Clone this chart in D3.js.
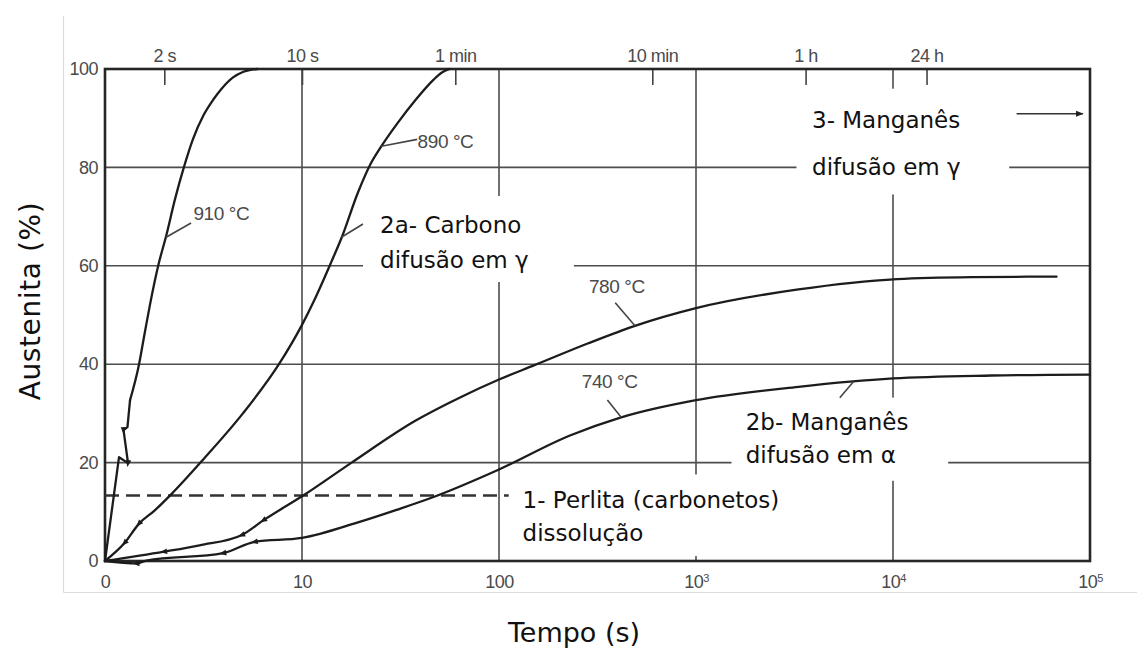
<!DOCTYPE html>
<html><head><meta charset="utf-8">
<script src="https://cdn.jsdelivr.net/npm/d3@7"></script>
<style>body{margin:0;background:#fff}</style>
</head><body>
<svg id="c" width="1137" height="648"></svg>
<script>
// ---------- data ----------
const timeTicks = [1, 10, 100, 1e3, 1e4, 1e5];
const timeTickBase = ["0", "10", "100", "10", "10", "10"];
const timeTickExp = ["", "", "", "3", "4", "5"];
const topTickValues = [2, 10, 60, 600, 3600, 14800];
const topTickLabels = ["2 s", "10 s", "1 min", "10 min", "1 h", "24 h"];
const pctTicks = [0, 20, 40, 60, 80, 100];
const gridTimes = [10, 100, 1e3, 1e4];
const gridPcts = [20, 40, 60, 80];

const t910 = [1, 1.178, 1.309, 1.242, 1.300, 1.340, 1.489, 1.585, 1.690, 1.875, 2.042, 2.265, 2.535, 2.793, 3.162, 3.548, 3.908, 4.467, 5.012, 5.943];
const p910 = [0, 21.1, 19.9, 26.6, 27.2, 32.7, 40, 46, 52, 60.5, 66, 73.5, 80.5, 85.7, 90.6, 93.8, 96, 98.3, 99.4, 100];
const t890 = [1, 1.259, 1.489, 1.778, 2.173, 3.162, 5.012, 7.638, 10, 11.64, 14.06, 15.92, 19.23, 22.28, 25.29, 30.55, 37.67, 46.45, 51.3, 56.1];
const p890 = [0, 3.7, 7.6, 10.2, 13.6, 20.7, 30, 40, 48, 53.3, 60.7, 65.8, 74.9, 80.7, 84.3, 89, 93.7, 97.8, 99.3, 100];
const t780 = [1, 1.995, 3.02, 4.955, 6.383, 10.23, 17.86, 37.58, 64.57, 100, 151.4, 281.8, 489.8, 1000, 3311, 10471, 25119, 67608];
const p780 = [0, 1.9, 3.2, 5.3, 8.3, 13.4, 20, 28.5, 33.4, 36.9, 39.8, 44.2, 47.8, 51.4, 55.2, 57.3, 57.7, 57.8];
const t740 = [1, 1.445, 1.622, 3.981, 5.754, 10, 19.05, 30.2, 45.08, 100, 229.1, 416.9, 1000, 3311, 10000, 31623, 100000];
const p740 = [0, -0.5, 0.1, 1.6, 3.9, 4.7, 7.8, 10.4, 12.8, 18.6, 25.5, 29.2, 32.7, 35.4, 37.1, 37.7, 37.9];

// index up to which each curve is drawn with straight pieces (break zigzag)
const linearUntil = [5, 0, 0, 0];

// break/arrow marks on the curves: series index and point index
const markSeries = [0, 0, 1, 1, 2, 2, 2, 3, 3, 3];
const markIndex  = [2, 3, 1, 2, 1, 3, 4, 1, 3, 4];

// pearlite dissolution level (dashed)
const dashT = [1, 112];
const dashP = [13.3, 13.3];

// white label boxes [t0,t1,p0,p1]
const boxT0 = [20.4, 3236, 1514, 112];
const boxT1 = [240, 38900, 19055, 3981];
const boxP0 = [56.7, 74.5, 16.3, 1];
const boxP1 = [74.2, 96, 33.2, 17.6];

// leader lines
const leadT0 = [2.042, 25.29, 15.85, 389, 355, 5370];
const leadP0 = [65.8, 84.3, 65.8, 52.5, 32.7, 33.2];
const leadT1 = [2.735, 38.46, 20.4, 490, 417, 6310];
const leadP1 = [68.7, 85.7, 68.5, 47.8, 29.2, 36.5];

// arrow (3- Manganês)
const arrowT = [42400, 92000];
const arrowP = [90.9, 90.9];

// temperature labels
const tempText = ["910 °C", "890 °C", "780 °C", "740 °C"];
const tempT = [2.81, 38.6, 286, 263];
const tempP = [70.7, 85.2, 55.8, 36.4];

// mechanism labels
const noteText = ["2a- Carbono", "difusão em γ", "3- Manganês", "difusão em γ", "2b- Manganês", "difusão em α", "1- Perlita (carbonetos)", "dissolução"];
const noteT = [24.9, 24.9, 3882, 3882, 1787, 1787, 131.8, 131.8];
const noteP = [68.3, 61.2, 89.6, 80.1, 28.3, 21.5, 12.4, 5.6];

const xTitle = "Tempo (s)";
const yTitle = "Austenita (%)";

// ---------- drawing ----------
const svg = d3.select("#c");
const x = d3.scaleLog().domain([1, 1e5]).range([105, 1090]);
const y = d3.scaleLinear().domain([0, 100]).range([561, 69]);

svg.append("rect").attr("width", 1137).attr("height", 648).attr("fill", "#fff");

// faint scan border
svg.append("line").attr("x1", 63.5).attr("x2", 63.5).attr("y1", 16).attr("y2", 592.5)
  .attr("stroke", "#dcdcdc").attr("stroke-width", 1.2);
svg.append("line").attr("x1", 63.5).attr("x2", 1137).attr("y1", 592.5).attr("y2", 592.5)
  .attr("stroke", "#dcdcdc").attr("stroke-width", 1.2);

const gridCol = "#4d4d4d";
svg.append("g").selectAll("line").data(gridTimes).join("line")
  .attr("x1", d => x(d)).attr("x2", d => x(d))
  .attr("y1", y(0)).attr("y2", y(100))
  .attr("stroke", gridCol).attr("stroke-width", 1.6);
svg.append("g").selectAll("line").data(gridPcts).join("line")
  .attr("x1", x(1)).attr("x2", x(1e5))
  .attr("y1", d => y(d)).attr("y2", d => y(d))
  .attr("stroke", gridCol).attr("stroke-width", 1.6);

// axes
const tickFont = "'Liberation Sans', Arial, sans-serif";
const topAxis = svg.append("g").attr("transform", `translate(0,${y(100)})`)
  .call(d3.axisTop(x).tickValues(topTickValues).tickFormat((d, i) => topTickLabels[i])
    .tickSizeInner(-16).tickSizeOuter(0).tickPadding(7.5));
const bottomAxis = svg.append("g").attr("transform", `translate(0,${y(0)})`)
  .call(d3.axisBottom(x).tickValues(timeTicks).tickFormat((d, i) => timeTickBase[i])
    .tickSize(0).tickPadding(14));
const leftAxis = svg.append("g").attr("transform", `translate(${x(1)},0)`)
  .call(d3.axisLeft(y).tickValues(pctTicks).tickFormat(d3.format("d"))
    .tickSize(0).tickPadding(7));
[topAxis, bottomAxis, leftAxis].forEach(g => {
  g.select(".domain").remove();
  g.selectAll("line").attr("stroke", "#444").attr("stroke-width", 1.6);
  g.selectAll("text").attr("font-family", tickFont).attr("font-size", 18)
    .attr("fill", "#4a4a4a").attr("letter-spacing", -0.5);
  g.attr("font-family", null).attr("font-size", null);
});
bottomAxis.selectAll("text").each(function (d, i) {
  if (timeTickExp[i]) {
    d3.select(this).append("tspan").attr("font-size", 11).attr("dy", "-0.55em").text(timeTickExp[i]);
  }
});

// white label boxes
svg.append("g").selectAll("rect").data(boxT0).join("rect")
  .attr("x", (d, i) => x(d)).attr("width", (d, i) => x(boxT1[i]) - x(d))
  .attr("y", (d, i) => y(boxP1[i])).attr("height", (d, i) => y(boxP0[i]) - y(boxP1[i]))
  .attr("fill", "#fff");

// frame
svg.append("rect").attr("x", x(1)).attr("y", y(100))
  .attr("width", x(1e5) - x(1)).attr("height", y(0) - y(100))
  .attr("fill", "none").attr("stroke", "#262626").attr("stroke-width", 2.6);

// dashed line
svg.append("line").attr("x1", x(dashT[0])).attr("x2", x(dashT[1]))
  .attr("y1", y(dashP[0])).attr("y2", y(dashP[1]))
  .attr("stroke", "#333").attr("stroke-width", 2.4).attr("stroke-dasharray", "14,7");

// curves
const series = [[t910, p910], [t890, p890], [t780, p780], [t740, p740]];
const pts = series.map(s => s[0].map((t, i) => [t, s[1][i]]));
const straight = d3.line().x(d => x(d[0])).y(d => y(d[1]));
const smooth = d3.line().x(d => x(d[0])).y(d => y(d[1])).curve(d3.curveMonotoneX);
const cg = svg.append("g").attr("fill", "none").attr("stroke", "#1c1c1c")
  .attr("stroke-width", 2.3).attr("stroke-linejoin", "round").attr("stroke-linecap", "round");
pts.forEach((p, k) => {
  const L = linearUntil[k];
  if (L > 0) cg.append("path").attr("d", straight(p.slice(0, L + 1)));
  cg.append("path").attr("d", smooth(p.slice(L)));
});

// small arrow marks
svg.append("g").selectAll("path").data(markSeries).join("path")
  .attr("d", "M-4,0 L3,-2.8 L3,2.8 Z")
  .attr("fill", "#1c1c1c")
  .attr("transform", (s, k) => {
    const p = pts[s], i = markIndex[k];
    const a = p[Math.max(0, i - 1)], b = p[Math.min(p.length - 1, i + 1)];
    const ang = Math.atan2(y(b[1]) - y(a[1]), x(b[0]) - x(a[0])) * 180 / Math.PI;
    return `translate(${x(p[i][0])},${y(p[i][1])}) rotate(${ang})`;
  });

// leaders
svg.append("g").selectAll("line").data(leadT0).join("line")
  .attr("x1", d => x(d)).attr("y1", (d, i) => y(leadP0[i]))
  .attr("x2", (d, i) => x(leadT1[i])).attr("y2", (d, i) => y(leadP1[i]))
  .attr("stroke", "#444").attr("stroke-width", 1.6);

// arrow
svg.append("defs").append("marker").attr("id", "ah").attr("viewBox", "0 0 10 10")
  .attr("refX", 9).attr("refY", 5).attr("markerWidth", 5).attr("markerHeight", 5)
  .attr("orient", "auto").append("path").attr("d", "M0,1 L10,5 L0,9 Z").attr("fill", "#222");
svg.append("line").attr("x1", x(arrowT[0])).attr("x2", x(arrowT[1]))
  .attr("y1", y(arrowP[0])).attr("y2", y(arrowP[1]))
  .attr("stroke", "#333").attr("stroke-width", 1.6).attr("marker-end", "url(#ah)");

// temperature labels
svg.append("g").selectAll("text").data(tempText).join("text")
  .attr("x", (d, i) => x(tempT[i])).attr("y", (d, i) => y(tempP[i]))
  .attr("dominant-baseline", "central")
  .attr("font-family", tickFont).attr("font-size", 19).attr("letter-spacing", -0.4)
  .attr("fill", "#4a4a4a").text(d => d);

// mechanism labels
const noteFont = "'DejaVu Sans', Verdana, sans-serif";
svg.append("g").selectAll("text").data(noteText).join("text")
  .attr("x", (d, i) => x(noteT[i])).attr("y", (d, i) => y(noteP[i]))
  .attr("dominant-baseline", "central")
  .attr("font-family", noteFont).attr("font-size", 23).attr("fill", "#111")
  .text(d => d);

// axis titles
svg.append("text").attr("x", 574).attr("y", 632).attr("text-anchor", "middle")
  .attr("dominant-baseline", "central").attr("font-family", noteFont)
  .attr("font-size", 27).attr("fill", "#111").text(xTitle);
svg.append("text").attr("transform", "translate(30,301) rotate(-90)")
  .attr("text-anchor", "middle").attr("dominant-baseline", "central")
  .attr("font-family", noteFont).attr("font-size", 28).attr("letter-spacing", 0.6)
  .attr("fill", "#111").text(yTitle);
</script>
</body></html>
